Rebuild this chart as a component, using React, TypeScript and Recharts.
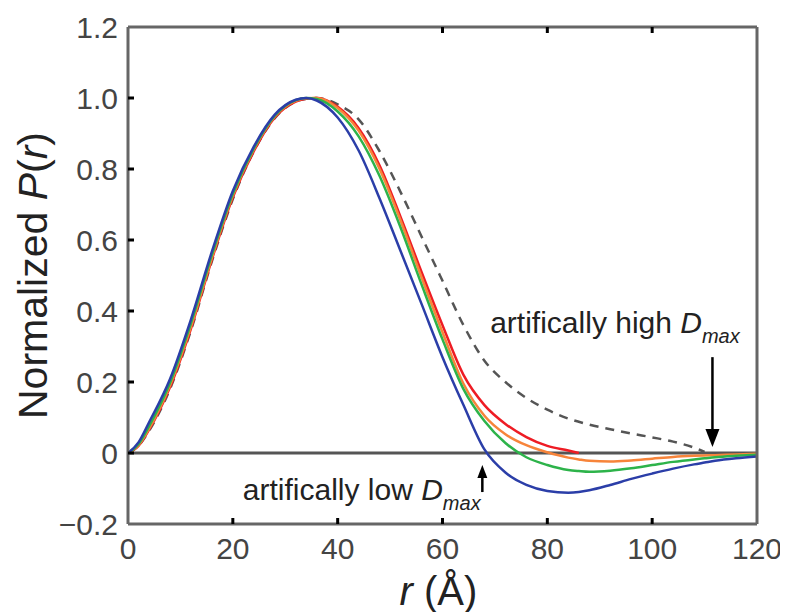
import { LineChart, Line, XAxis, YAxis, ReferenceLine, ReferenceDot } from "recharts";

// r grid (Å) and normalized P(r) values
const rValues = [0, 2, 4, 8, 12, 16, 20, 24, 28, 32, 34, 36, 40, 44, 48, 52, 56, 60, 64, 68, 72, 76, 80, 84, 86, 88, 92, 96, 100, 104, 108, 110, 112, 116, 120];

const highDmax = [0, 0.02, 0.062, 0.18, 0.345, 0.54, 0.715, 0.85, 0.943, 0.99, 0.998, 1.0, 0.982, 0.94, 0.85, 0.735, 0.61, 0.485, 0.36, 0.26, 0.2, 0.155, 0.122, 0.097, 0.088, 0.08, 0.067, 0.055, 0.044, 0.032, 0.015, 0.003, null, null, null];
const redCurve = [0, 0.02, 0.065, 0.185, 0.35, 0.545, 0.72, 0.85, 0.945, 0.99, 0.998, 1.0, 0.975, 0.915, 0.81, 0.665, 0.51, 0.36, 0.22, 0.135, 0.082, 0.045, 0.02, 0.007, 0, null, null, null, null, null, null, null, null, null, null];
const orangeCurve = [0, 0.022, 0.068, 0.19, 0.355, 0.55, 0.725, 0.855, 0.948, 0.992, 0.999, 1.0, 0.972, 0.908, 0.8, 0.655, 0.495, 0.34, 0.195, 0.105, 0.053, 0.022, 0.002, -0.013, -0.018, -0.022, -0.024, -0.021, -0.016, -0.011, -0.008, -0.007, -0.006, -0.004, -0.002];
const greenCurve = [0, 0.025, 0.075, 0.197, 0.365, 0.558, 0.73, 0.858, 0.95, 0.994, 1.0, 0.997, 0.962, 0.892, 0.78, 0.635, 0.475, 0.32, 0.18, 0.09, 0.028, -0.012, -0.034, -0.048, -0.051, -0.053, -0.05, -0.043, -0.034, -0.025, -0.018, -0.015, -0.012, -0.008, -0.005];
const blueCurve = [0, 0.03, 0.086, 0.208, 0.376, 0.567, 0.738, 0.863, 0.953, 0.995, 1.0, 0.993, 0.945, 0.852, 0.717, 0.569, 0.42, 0.27, 0.135, 0.01, -0.055, -0.09, -0.107, -0.112, -0.11, -0.105, -0.09, -0.073, -0.058, -0.044, -0.032, -0.027, -0.022, -0.015, -0.01];

const xTicks = [0, 20, 40, 60, 80, 100, 120];
const yTicks = [-0.2, 0, 0.2, 0.4, 0.6, 0.8, 1.0, 1.2];

const data = rValues.map((r, i) => ({
  r,
  high: highDmax[i],
  red: redCurve[i],
  orange: orangeCurve[i],
  green: greenCurve[i],
  blue: blueCurve[i],
}));

const FONT = "'Liberation Sans', Arial, Helvetica, sans-serif";
const FRAME = "#666";
const AXIS_LINE = { stroke: FRAME, strokeWidth: 3 };
const TICK_LEN = 6;
const TICK_W = 3;
const BOTTOM_GAP = 14;
const LEFT_GAP = 10;

const fmtY = (v: number) => {
  if (v === 0) return "0";
  const s = Math.abs(v).toFixed(1);
  return v < 0 ? "\u2212" + s : s;
};

const isEnd = (v: number, lo: number, hi: number) => Math.abs(v - lo) < 1e-6 || Math.abs(v - hi) < 1e-6;

// ticks point inward (MATLAB style); labels only on bottom / left
function BottomTick({ x, y, payload }: any) {
  const ay = y - BOTTOM_GAP;
  return (
    <g>
      {!isEnd(payload.value, 0, 120) && <line x1={x} x2={x} y1={ay} y2={ay - TICK_LEN} stroke="#000" strokeWidth={TICK_W} />}
      <text x={x} y={y} dy="0.71em" textAnchor="middle" fontSize={30} fill="#444" fontFamily={FONT}>
        {payload.value}
      </text>
    </g>
  );
}

function LeftTick({ x, y, payload }: any) {
  const ax = x + LEFT_GAP;
  return (
    <g>
      {!isEnd(payload.value, -0.2, 1.2) && <line x1={ax} x2={ax + TICK_LEN} y1={y} y2={y} stroke="#000" strokeWidth={TICK_W} />}
      <text x={x} y={y} dy="0.355em" textAnchor="end" fontSize={30} fill="#444" fontFamily={FONT}>
        {fmtY(payload.value)}
      </text>
    </g>
  );
}

function TopTick({ x, y, payload }: any) {
  if (isEnd(payload.value, 0, 120)) return <g />;
  return <line x1={x} x2={x} y1={y} y2={y + TICK_LEN} stroke="#000" strokeWidth={TICK_W} />;
}

function RightTick({ x, y, payload }: any) {
  if (isEnd(payload.value, -0.2, 1.2)) return <g />;
  return <line x1={x} x2={x - TICK_LEN} y1={y} y2={y} stroke="#000" strokeWidth={TICK_W} />;
}

function YLabel({ viewBox }: any) {
  const x = viewBox.x + 39;
  const y = viewBox.y + viewBox.height / 2;
  return (
    <text x={x} y={y} transform={`rotate(-90 ${x} ${y})`} textAnchor="middle" fontSize={41} fill="#222" fontFamily={FONT}>
      Normalized <tspan fontStyle="italic">P</tspan>(<tspan fontStyle="italic">r</tspan>)
    </text>
  );
}

function XLabel({ viewBox }: any) {
  const x = viewBox.x + viewBox.width / 2 - 4;
  const y = viewBox.y + 81;
  return (
    <text x={x} y={y} textAnchor="middle" fontSize={40} fill="#222" fontFamily={FONT}>
      <tspan fontStyle="italic">r</tspan> (Å)
    </text>
  );
}

// annotation text with italic D and subscript "max"
function Note(text: string) {
  return ({ cx, cy }: any) => (
    <text x={cx} y={cy} fontSize={30} fill="#222" fontFamily={FONT}>
      {text} <tspan fontStyle="italic">D</tspan>
      <tspan fontStyle="italic" fontSize={20} dy={10}>max</tspan>
    </text>
  );
}

const downHead = ({ cx, cy }: any) => (
  <path d={`M${cx},${cy} L${cx - 7},${cy - 18} L${cx + 7},${cy - 18} Z`} fill="#000" />
);
const upHead = ({ cx, cy }: any) => (
  <path d={`M${cx},${cy} L${cx - 5},${cy + 13} L${cx + 5},${cy + 13} Z`} fill="#000" />
);

export default function App() {
  return (
    <LineChart width={780} height={604} data={data} margin={{ top: 18, right: 30, left: 0, bottom: 0 }}>
      <XAxis
        dataKey="r"
        type="number"
        domain={[0, 120]}
        ticks={xTicks}
        allowDataOverflow
        height={88}
        tick={<BottomTick />}
        tickSize={0}
        tickMargin={BOTTOM_GAP}
        tickLine={false}
        axisLine={AXIS_LINE}
        label={<XLabel />}
      />
      <XAxis
        xAxisId="top"
        orientation="top"
        dataKey="r"
        type="number"
        domain={[0, 120]}
        ticks={xTicks}
        height={1}
        tick={<TopTick />}
        tickSize={0}
        tickMargin={0}
        tickLine={false}
        axisLine={AXIS_LINE}
      />
      <YAxis
        type="number"
        domain={[-0.2, 1.2]}
        ticks={yTicks}
        allowDataOverflow
        width={120}
        tick={<LeftTick />}
        tickSize={0}
        tickMargin={LEFT_GAP}
        tickLine={false}
        axisLine={AXIS_LINE}
        label={<YLabel />}
      />
      <YAxis
        yAxisId="right"
        orientation="right"
        type="number"
        domain={[-0.2, 1.2]}
        ticks={yTicks}
        width={1}
        tick={<RightTick />}
        tickSize={0}
        tickMargin={0}
        tickLine={false}
        axisLine={AXIS_LINE}
      />
      <ReferenceLine y={0} stroke="#555" strokeWidth={3} />
      <Line dataKey="high" type="monotone" stroke="#555" strokeWidth={2.5} strokeDasharray="9 7" dot={false} isAnimationActive={false} />
      <Line dataKey="red" type="monotone" stroke="#ee1c24" strokeWidth={2.5} dot={false} isAnimationActive={false} />
      <Line dataKey="orange" type="monotone" stroke="#f7843a" strokeWidth={2.5} dot={false} isAnimationActive={false} />
      <Line dataKey="green" type="monotone" stroke="#2db34a" strokeWidth={2.5} dot={false} isAnimationActive={false} />
      <Line dataKey="blue" type="monotone" stroke="#2b3ea8" strokeWidth={2.5} dot={false} isAnimationActive={false} />

      <ReferenceLine segment={[{ x: 111.5, y: 0.27 }, { x: 111.5, y: 0.06 }]} stroke="#000" strokeWidth={2.5} />
      <ReferenceDot x={111.5} y={0.017} shape={downHead} />
      <ReferenceLine segment={[{ x: 67.6, y: -0.11 }, { x: 67.6, y: -0.06 }]} stroke="#000" strokeWidth={2.5} />
      <ReferenceDot x={67.6} y={-0.034} shape={upHead} />

      <ReferenceDot x={69.1} y={0.338} shape={Note("artifically high")} />
      <ReferenceDot x={21.9} y={-0.132} shape={Note("artifically low")} />
    </LineChart>
  );
}
